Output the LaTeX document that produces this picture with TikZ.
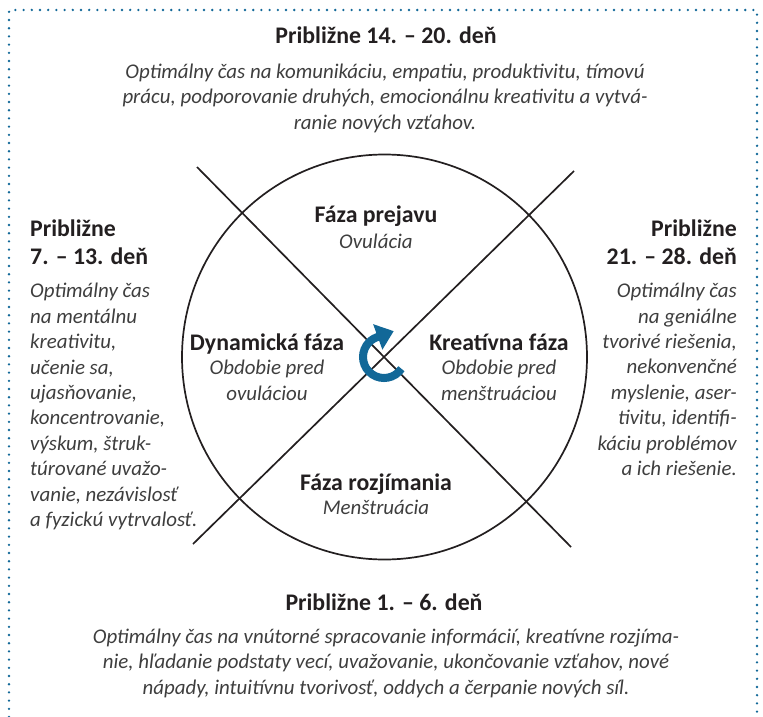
\documentclass[tikz,border=0pt]{standalone}
\usepackage{fontspec}
\setmainfont{Carlito}
\usepackage{tikz}
\usetikzlibrary{arrows.meta}
\definecolor{cycleblue}{RGB}{18,104,152}
\definecolor{textgray}{RGB}{62,62,62}
\definecolor{headblack}{RGB}{35,31,32}

\begin{document}
\begin{tikzpicture}[
      x=1pt, y=1pt,
      head/.style={font=\fontsize{23.8}{28}\selectfont\bfseries, text=headblack, inner sep=0pt},
      body/.style={font=\fontsize{20.9}{25.4}\selectfont\itshape, text=textgray, inner sep=0pt},
      frame/.style={draw=cycleblue, line width=2.6pt, line cap=round, dash pattern=on 0pt off 8.2pt},
      cross/.style={draw=headblack, line width=1.7pt},
      turn/.style={draw=cycleblue, line width=8pt, -{Triangle[length=17pt, width=26pt]}}
    ]
    \useasboundingbox (0,0) rectangle (763,-717);
    \coordinate (frame bl) at (9,-717);
    \coordinate (frame tl) at (9,-10);
    \coordinate (frame tr) at (757,-10);
    \coordinate (frame br) at (757,-717);
    \draw[frame] (frame bl) -- (frame tl) -- (frame tr) -- (frame br);

    \node[draw=headblack, circle, line width=1.7pt, minimum size=405pt, inner sep=0pt] (cycle) at (384.5,-357) {};
    \coordinate (hub) at (384,-357);
    \coordinate (tl) at (197,-167);
    \coordinate (br) at (571,-547);
    \coordinate (tr) at (574,-171);
    \coordinate (bl) at (193,-544);
    \draw[cross] (tl) -- (br);
    \draw[cross] (tr) -- (bl);
    \draw[turn] ([shift={(-34:21)}]hub) arc[start angle=-34, end angle=-250, radius=21] -- ++(20:18);

    \node[head, anchor=base] (top head) at (386,-44) {Približne 14. – 20. deň};
    \node[body, anchor=base, align=center] (top text) at (385,-129)
      {Optimálny čas na komunikáciu, empatiu, produktivitu, tímovú\\prácu, podporovanie druhých, emocionálnu kreativitu a vytvá-\\ranie nových vzťahov.};

    \node[head, anchor=base west, align=left] (left head) at (30,-264) {Približne\\7. – 13. deň};
    \node[body, anchor=base west, align=left] (left text) at (30,-526.5)
      {Optimálny čas\\na mentálnu\\kreativitu,\\učenie sa,\\ujasňovanie,\\koncentrovanie,\\výskum, štruk-\\túrované uvažo-\\vanie, nezávislosť\\a fyzickú vytrvalosť.};

    \node[head, anchor=base east, align=right] (right head) at (737,-264) {Približne\\21. – 28. deň};
    \node[body, anchor=base east, align=right] (right text) at (737,-475.5)
      {Optimálny čas\\na geniálne\\tvorivé riešenia,\\nekonvenčné\\myslenie, aser-\\tivitu, identifi-\\káciu problémov\\a ich riešenie.};

    \node[head, anchor=base] (bottom head) at (384,-610) {Približne 1. – 6. deň};
    \node[body, anchor=base, align=center] (bottom text) at (386,-694)
      {Optimálny čas na vnútorné spracovanie informácií, kreatívne rozjíma-\\nie, hľadanie podstaty vecí, uvažovanie, ukončovanie vzťahov, nové\\nápady, intuitívnu tvorivosť, oddych a čerpanie nových síl.};

    \node[head, anchor=base] (ovulation) at (376,-222) {Fáza prejavu};
    \node[body, anchor=base] (ovulation sub) at (376,-248) {Ovulácia};
    \node[head, anchor=base] (dynamic) at (267,-350) {Dynamická fáza};
    \node[body, anchor=base, align=center] (dynamic sub) at (267,-400) {Obdobie pred\\ovuláciou};
    \node[head, anchor=base] (creative) at (499,-350) {Kreatívna fáza};
    \node[body, anchor=base, align=center] (creative sub) at (499,-400) {Obdobie pred\\menštruáciou};
    \node[head, anchor=base] (reflection) at (376,-490) {Fáza rozjímania};
    \node[body, anchor=base] (reflection sub) at (376,-514) {Menštruácia};
  \end{tikzpicture}
\end{document}
